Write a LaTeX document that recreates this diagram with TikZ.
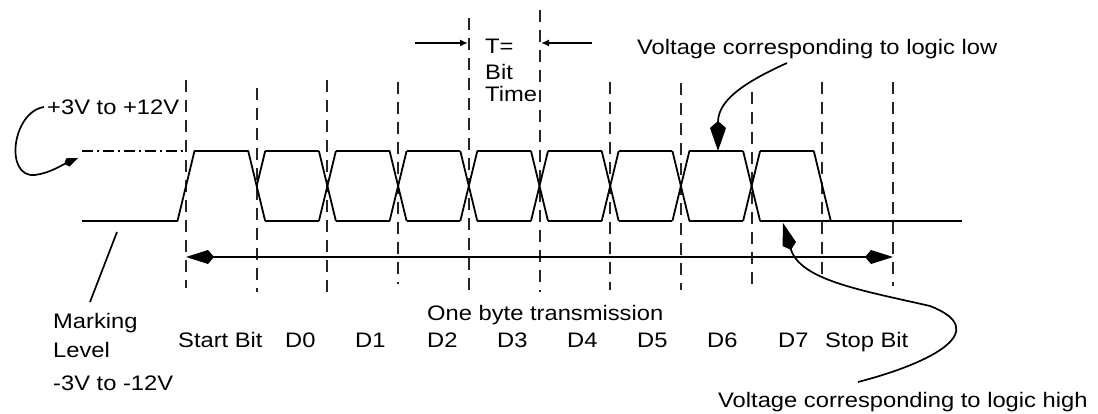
\documentclass[tikz,border=0pt]{standalone}
\usepackage{fontspec}
\setmainfont{Liberation Sans}[FakeStretch=1.13]
\usetikzlibrary{arrows.meta}
\tikzset{
  sig/.style={line width=1.8pt, line join=round},
  gridline/.style={line width=2pt, dash pattern=on 12pt off 8pt, black!85},
  dashdot/.style={line width=1.6pt, dash pattern=on 11pt off 4pt on 2pt off 4pt},
  conn/.style={line width=1.7pt},
  lbl/.style={inner sep=0pt, anchor=base west, font=\fontsize{21}{24}\selectfont},
  bigkite/.style={Kite[length=28pt,width=14pt,inset=6pt]},
  smalltip/.style={-{Latex[length=8pt,width=7pt]}},
}
\begin{document}
\begin{tikzpicture}[x=1pt,y=-1pt]
\useasboundingbox (0,0) rectangle (1098,414);
\def\hi{151}\def\lo{221}\def\dd{8.5}
% dashed bit boundaries
\foreach \i/\top/\bot in {0/80/288,1/88/292,2/80/292,3/82/284,4/18/292,5/10/292,6/82/290,7/83/290,8/92/290,9/82/280,10/82/286}{
  \pgfmathsetmacro{\bx}{186+70.7*\i}
  \draw[gridline] (\bx,\top) -- (\bx,\bot);
}
% idle and start
\draw[dashdot] (82,\hi) -- (186,\hi);
\draw[sig] (82,\lo) -- (186-\dd,\lo) -- (186+\dd,\hi) -- (256.7-\dd,\hi) -- (256.7+\dd,\lo);
\draw[sig] (256.7+\dd,\hi) -- (256.7,186);
% data bits D0..D7
\foreach \k in {1,...,8}{
  \pgfmathsetmacro{\ba}{186+70.7*\k}
  \pgfmathsetmacro{\bb}{186+70.7*(\k+1)}
  \draw[sig] (\ba+\dd,\hi) -- (\bb-\dd,\hi);
  \ifnum\k<8
    \draw[sig] (\ba+\dd,\lo) -- (\bb-\dd,\lo);
  \fi
}
\foreach \k in {2,...,8}{
  \pgfmathsetmacro{\ba}{186+70.7*\k}
  \draw[sig] (\ba-\dd,\hi) -- (\ba+\dd,\lo);
  \draw[sig] (\ba-\dd,\lo) -- (\ba+\dd,\hi);
}
\draw[sig] (822.3-\dd,\hi) -- (822.3+\dd,\lo);
\draw[sig] (751.6+\dd,\lo) -- (962,\lo);
% byte arrow
\coordinate (bl) at (186,257);
\coordinate (br) at (893,257);
\draw[conn, {Kite[length=28pt,width=14pt,inset=6pt]}-{Kite[length=28pt,width=14pt,inset=6pt]}] (bl) -- (br);
% bit time arrows
\coordinate (ta1) at (415,43); \coordinate (ta2) at (468,43);
\coordinate (tb1) at (592,43); \coordinate (tb2) at (541,43);
\draw[conn, smalltip] (ta1) -- (ta2);
\draw[conn, smalltip] (tb1) -- (tb2);
% labels
\node[lbl] (tl) at (485,54) {T=};
\node[lbl] (bl2) at (485,80) {Bit};
\node[lbl] (tm) at (485,102) {Time};
\node[lbl] (vlow) at (637,55) {Voltage corresponding to logic low};
\node[lbl] (vpos) at (47,115) {+3V to +12V};
\node[lbl] (mk) at (53,328) {Marking};
\node[lbl] (lv) at (53,357) {Level};
\node[lbl] (neg) at (53,390) {-3V to -12V};
\node[lbl] (obt) at (427,320) {One byte transmission};
\node[lbl] (sb) at (178,347) {Start Bit};
\node[lbl] (d0) at (285,347) {D0};
\node[lbl] (d1) at (355,347) {D1};
\node[lbl] (d2) at (427,347) {D2};
\node[lbl] (d3) at (497,347) {D3};
\node[lbl] (d4) at (567,347) {D4};
\node[lbl] (d5) at (637,347) {D5};
\node[lbl] (d6) at (707,347) {D6};
\node[lbl] (d7) at (778,347) {D7};
\node[lbl] (stb) at (825,347) {Stop Bit};
\node[lbl] (vhigh) at (718,407) {Voltage corresponding to logic high};
% annotation connectors
\coordinate (p3s) at (44,107);
\coordinate (p3e) at (78,158);
\draw[conn, -{Kite[length=15pt,width=9pt,inset=4pt]}] (p3s) .. controls (12,112) and (4,178) .. (35,175) .. controls (50,173) and (62,165) .. (p3e);
\coordinate (mks) at (117,232);
\coordinate (mke) at (90,302);
\draw[conn] (mks) -- (mke);
\coordinate (lows) at (787,63);
\coordinate (lowe) at (718,151);
\draw[conn, -{Kite[length=30pt,width=16pt,inset=7pt]}] (lows) .. controls (745,82) and (718,100) .. (lowe);
\coordinate (his) at (858,382);
\coordinate (hie) at (783,223);
\draw[conn, -{Kite[length=28pt,width=14pt,inset=6pt]}] (his) .. controls (935,362) and (992,330) .. (930,306) .. controls (860,290) and (800,280) .. (hie);
\end{tikzpicture}
\end{document}
